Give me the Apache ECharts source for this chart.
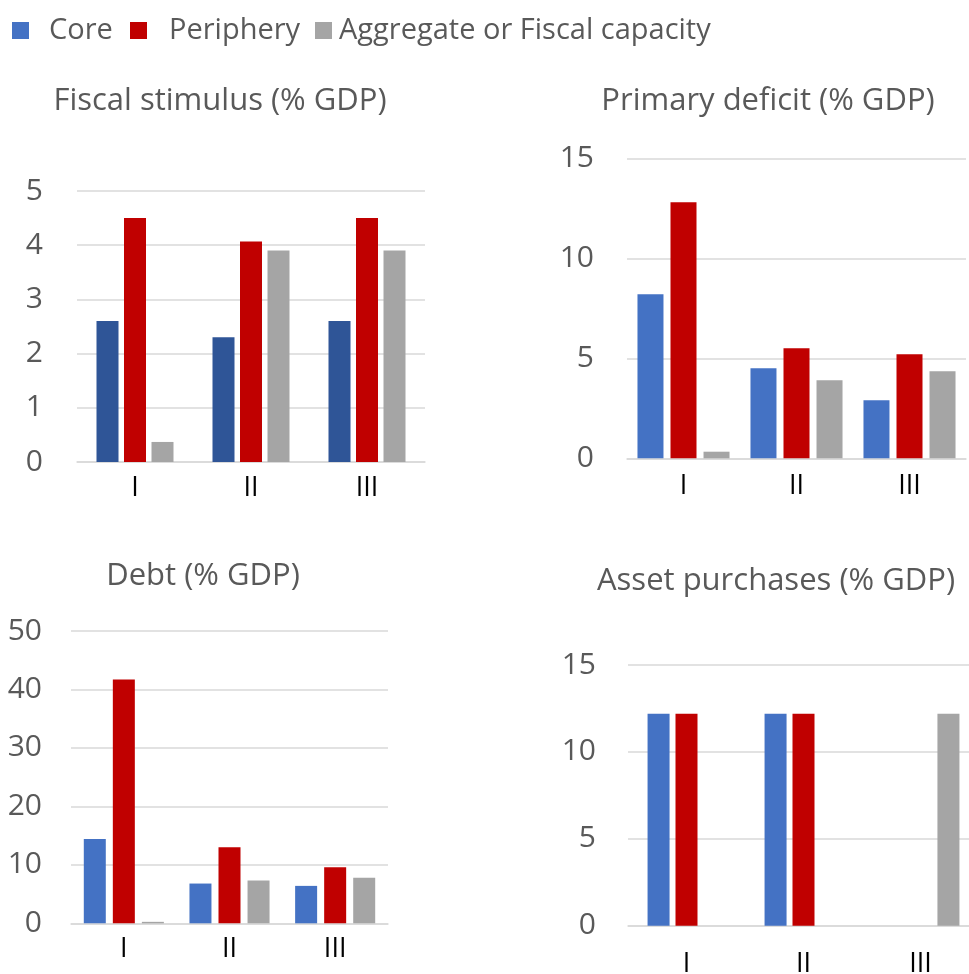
<!DOCTYPE html>
<html>
<head>
<meta charset="utf-8">
<script src="https://cdn.jsdelivr.net/npm/echarts@6/dist/echarts.min.js"></script>
<style>
html,body{margin:0;padding:0;background:#fff;}
#chart{width:969px;height:974px;}
</style>
</head>
<body>
<div id="chart"></div>
<script>
const categories = ['I', 'II', 'III'];
const seriesNames = ['Core', 'Periphery', 'Aggregate or Fiscal capacity'];
const panelTitles = ['Fiscal stimulus (% GDP)', 'Primary deficit (% GDP)', 'Debt (% GDP)', 'Asset purchases (% GDP)'];

const stimulusCore = [2.6, 2.3, 2.6];
const stimulusPeriphery = [4.5, 4.07, 4.5];
const stimulusAggregate = [0.37, 3.9, 3.9];

const deficitCore = [8.2, 4.5, 2.9];
const deficitPeriphery = [12.8, 5.5, 5.2];
const deficitAggregate = [0.33, 3.9, 4.35];

const debtCore = [14.4, 6.8, 6.4];
const debtPeriphery = [41.7, 13.0, 9.6];
const debtAggregate = [0.25, 7.3, 7.8];

const assetCore = [12.2, 12.2, null];
const assetPeriphery = [12.2, 12.2, null];
const assetAggregate = [null, null, 12.2];

const yMax = [5, 15, 50, 15];
const yStep = [1, 5, 10, 5];

const FONT = 'Open Sans';
const BLUE = '#4472C4', DARKBLUE = '#2F5597', RED = '#C00000', GRAY = '#A5A5A5';

const panels = [
  {data: [stimulusCore, stimulusPeriphery, stimulusAggregate], colors: [DARKBLUE, RED, GRAY],
   grid: {left: 77, right: 544, top: 191, bottom: 512}, barWidth: 22, barGap: '25%', xMargin: 13, yMargin: 34,
   title: {x: 220, y: 86}},
  {data: [deficitCore, deficitPeriphery, deficitAggregate], colors: [BLUE, RED, GRAY],
   grid: {left: 627, right: 3, top: 158.3, bottom: 515.7}, barWidth: 26, barGap: '27%', xMargin: 15, yMargin: 33,
   title: {x: 768, y: 86}},
  {data: [debtCore, debtPeriphery, debtAggregate], colors: [BLUE, RED, GRAY],
   grid: {left: 71, right: 581, top: 631, bottom: 50.7}, barWidth: 22, barGap: '32%', xMargin: 13, yMargin: 29,
   title: {x: 203, y: 561}},
  {data: [assetCore, assetPeriphery, assetAggregate], colors: [BLUE, RED, GRAY],
   grid: {left: 628, right: -10, top: 665, bottom: 48.3}, barWidth: 22, barGap: '27%', xMargin: 25, yMargin: 32,
   title: {x: 776, y: 566}}
];

const grids = [], xAxes = [], yAxes = [], series = [], titles = [];
panels.forEach((p, i) => {
  grids.push(Object.assign({containLabel: false, outerBoundsMode: 'none'}, p.grid));
  xAxes.push({
    type: 'category', gridIndex: i, data: categories,
    axisLine: {show: true, lineStyle: {color: '#D9D9D9', width: 1.5}},
    axisTick: {show: false},
    axisLabel: {color: '#000', fontFamily: FONT, fontSize: 27, margin: p.xMargin}
  });
  yAxes.push({
    type: 'value', gridIndex: i, min: 0, max: yMax[i], interval: yStep[i],
    axisLine: {show: false}, axisTick: {show: false},
    splitLine: {show: true, lineStyle: {color: '#D9D9D9', width: 1.5}},
    axisLabel: {color: '#595959', fontFamily: FONT, fontSize: 30, margin: p.yMargin}
  });
  p.data.forEach((d, k) => {
    series.push({
      type: 'bar', name: seriesNames[k], xAxisIndex: i, yAxisIndex: i, data: d,
      barWidth: p.barWidth, barGap: p.barGap,
      itemStyle: {color: p.colors[k]},
      silent: true
    });
  });
  titles.push({
    text: panelTitles[i], left: p.title.x, top: p.title.y, textAlign: 'center', padding: 0,
    textStyle: {color: '#595959', fontFamily: FONT, fontSize: 31, fontWeight: 'normal'}
  });
});

const legendColors = [BLUE, RED, GRAY];
const legendLefts = [12, 130, 315];
const legendTextPad = [15, 17, 2];
const legends = seriesNames.map((n, k) => ({
  data: [{name: n, itemStyle: {color: legendColors[k]}}],
  left: legendLefts[k], top: 16, padding: 0, itemWidth: 17, itemHeight: 17, icon: 'rect',
  selectedMode: false,
  textStyle: {color: '#595959', fontFamily: FONT, fontSize: 29, padding: [0, 0, 0, legendTextPad[k]]}
}));

const chart = echarts.init(document.getElementById('chart'), null, {renderer: 'canvas'});
chart.setOption({
  animation: false,
  backgroundColor: '#fff',
  title: titles,
  legend: legends,
  grid: grids,
  xAxis: xAxes,
  yAxis: yAxes,
  series: series
});
</script>
</body>
</html>
